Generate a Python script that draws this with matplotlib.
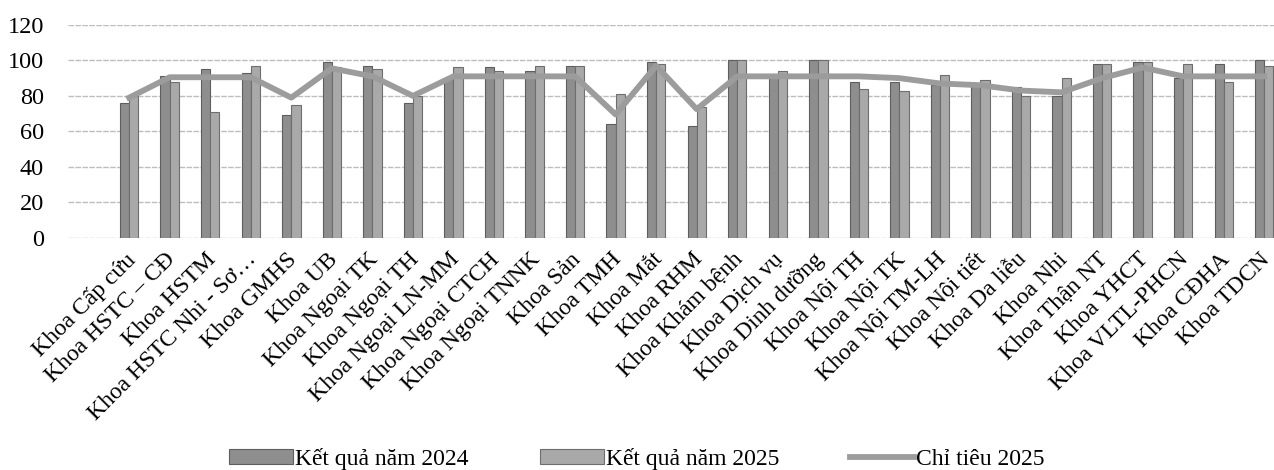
import numpy as np
import matplotlib
matplotlib.use('Agg')
from matplotlib import pyplot as plt

plt.rcParams['font.family'] = ['Liberation Serif', 'DejaVu Serif']

categories = ['Khoa Cấp cứu', 'Khoa HSTC – CĐ', 'Khoa HSTM', 'Khoa HSTC Nhi - Sơ…',
              'Khoa GMHS', 'Khoa UB', 'Khoa Ngoại TK', 'Khoa Ngoại TH',
              'Khoa Ngoại LN-MM', 'Khoa Ngoại CTCH', 'Khoa Ngoại TNNK', 'Khoa Sản',
              'Khoa TMH', 'Khoa Mắt', 'Khoa RHM', 'Khoa Khám bệnh', 'Khoa Dịch vụ',
              'Khoa Dinh dưỡng', 'Khoa Nội TH', 'Khoa Nội TK', 'Khoa Nội TM-LH',
              'Khoa Nội tiết', 'Khoa Da liễu', 'Khoa Nhi', 'Khoa Thận NT', 'Khoa YHCT',
              'Khoa VLTL-PHCN', 'Khoa CĐHA', 'Khoa TDCN']

ket_qua_2024 = [76, 91, 95, 93, 69, 99, 97, 76, 90, 96, 94, 97, 64, 99, 63,
                100, 91, 100, 88, 88, 86, 86, 85, 80, 98, 99, 90, 98, 100]
ket_qua_2025 = [80, 88, 71, 97, 75, 96, 95, 80, 96, 94, 97, 97, 81, 98, 74,
                100, 94, 100, 84, 83, 92, 89, 80, 90, 98, 99, 98, 88, 97]
chi_tieu_2025 = [79, 90.5, 90.5, 90.5, 79, 95.5, 91, 80, 91, 91, 91, 91, 69.5, 97, 72.5,
                 91, 91, 91, 91, 90, 87, 86, 83, 82, 90, 96, 91, 91, 91]

y_ticks = [0, 20, 40, 60, 80, 100, 120]

fig = plt.figure(figsize=(12.74, 4.70), dpi=100)
ax = fig.add_axes([0.053, 0.494, 0.947, 0.453])

x = np.arange(len(categories))
w = 0.227
b1 = ax.bar(x - w / 2, ket_qua_2024, w, color='#8e8e8e', edgecolor='#5e5e5e',
            linewidth=0.8, label='Kết quả năm 2024', zorder=2)
b2 = ax.bar(x + w / 2, ket_qua_2025, w, color='#a9a9a9', edgecolor='#6e6e6e',
            linewidth=0.8, label='Kết quả năm 2025', zorder=2)
ln, = ax.plot(x, chi_tieu_2025, color='#9c9c9c', linewidth=4.2, label='Chỉ tiêu 2025',
              zorder=3)

ax.set_ylim(0, 120)
ax.set_xlim(-1.52, 28.24)
ax.set_yticks(y_ticks)
ax.set_yticklabels([str(t) for t in y_ticks], fontsize=17.5)
# labels end a little left of where matplotlib anchors them, nudge them
ax.set_xticks(x - 0.12)
ax.set_xticklabels(categories, rotation=45, ha='right', rotation_mode='anchor',
                   fontsize=17)
ax.tick_params(axis='both', length=0)
ax.tick_params(axis='y', pad=17)
ax.tick_params(axis='x', pad=8)
ax.yaxis.grid(True, color='#bdbdbd', linewidth=1.0, linestyle=(0, (4, 1)), zorder=0)
for s in ax.spines.values():
    s.set_visible(False)

fig.legend(handles=[b1, b2, ln], loc='lower center', bbox_to_anchor=(0.5, -0.045),
           ncol=3, frameon=False, fontsize=17, handlelength=2.7, handletextpad=0.1,
           columnspacing=3.0, handleheight=0.6)

fig.savefig('out.png', dpi=100)
